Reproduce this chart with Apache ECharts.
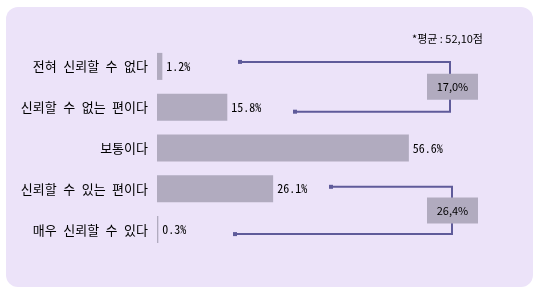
<!DOCTYPE html>
<html><head><meta charset="utf-8">
<script src="https://cdn.jsdelivr.net/npm/echarts@6/dist/echarts.min.js"></script>
<style>html,body{margin:0;padding:0;background:#fff}#c{width:539px;height:295px}</style>
</head><body><div id="c"></div>
<script>
var categories = ['전혀 신뢰할 수 없다', '신뢰할 수 없는 편이다', '보통이다', '신뢰할 수 있는 편이다', '매우 신뢰할 수 있다'];
var values = [1.2, 15.8, 56.6, 26.1, 0.3];
var valueLabels = ['1.2%', '15.8%', '56.6%', '26.1%', '0.3%'];
var groupFrom = [0, 3];
var groupTo = [1, 4];
var groupLabels = ['17,0%', '26,4%'];
var noteText = '*평균 : 52,10점';

var FONT = '"Noto Sans CJK KR", "DejaVu Sans", sans-serif';
var MONO = '"Noto Sans Mono CJK KR", "Noto Sans CJK KR", "DejaVu Sans Mono", monospace';
var LINE = '#5f5b9a';
var BAR = '#b1abbf';

var chart = echarts.init(document.getElementById('c'));

var bracketCfg = [
  {topX: 240, botX: 295, rightX: 450, topOff: -4.5, botOff: 4.5, boxL: 427, boxR: 478},
  {topX: 331, botX: 235, rightX: 452, topOff: -2, botOff: 4.5, boxL: 427, boxR: 478}
];
var bracketData = groupFrom.map(function (f, i) { return [0, f, groupTo[i], i]; });

chart.setOption({
  animation: false,
  graphic: [{
    type: 'rect', z: -10, silent: true,
    shape: {x: 6, y: 7, width: 527, height: 280, r: 12},
    style: {fill: '#ece3f9'}
  }, {
    type: 'text', left: 412, top: 33,
    style: {text: noteText, font: '11px ' + FONT, fill: '#000'}
  }],
  grid: {left: 157, top: 46, width: 267, height: 204},
  xAxis: {type: 'value', min: 0, max: 60, show: false},
  yAxis: {
    type: 'category', data: categories, inverse: true,
    axisLine: {show: false}, axisTick: {show: false},
    axisLabel: {margin: 9, fontSize: 13, fontFamily: MONO, color: '#000'}
  },
  series: [{
    type: 'bar', data: values, barWidth: 27,
    itemStyle: {color: BAR},
    label: {
      show: true, position: 'right', distance: 4,
      formatter: function (p) { return valueLabels[p.dataIndex]; },
      fontSize: 12, fontFamily: MONO, color: '#000'
    }
  }, {
    type: 'custom', data: bracketData, silent: true, z: 5,
    renderItem: function (params, api) {
      var i = api.value(3);
      var cfg = bracketCfg[i];
      var yTop = api.coord([0, api.value(1)])[1] + cfg.topOff;
      var yBot = api.coord([0, api.value(2)])[1] + cfg.botOff;
      var yMid = (yTop + yBot) / 2;
      return {
        type: 'group',
        children: [{
          type: 'polyline',
          shape: {points: [[cfg.topX, yTop], [cfg.rightX, yTop], [cfg.rightX, yBot], [cfg.botX, yBot]]},
          style: {stroke: LINE, lineWidth: 2, fill: null}
        }, {
          type: 'rect', shape: {x: cfg.topX - 2, y: yTop - 2, width: 4, height: 4},
          style: {fill: LINE}
        }, {
          type: 'rect', shape: {x: cfg.botX - 2, y: yBot - 2, width: 4, height: 4},
          style: {fill: LINE}
        }, {
          type: 'rect', shape: {x: cfg.boxL, y: yMid - 13, width: cfg.boxR - cfg.boxL, height: 26},
          style: {fill: BAR}
        }, {
          type: 'text',
          style: {
            text: groupLabels[i], x: (cfg.boxL + cfg.boxR) / 2, y: yMid,
            align: 'center', verticalAlign: 'middle',
            font: '11px ' + FONT, fill: '#000'
          }
        }]
      };
    }
  }]
});
</script></body></html>
